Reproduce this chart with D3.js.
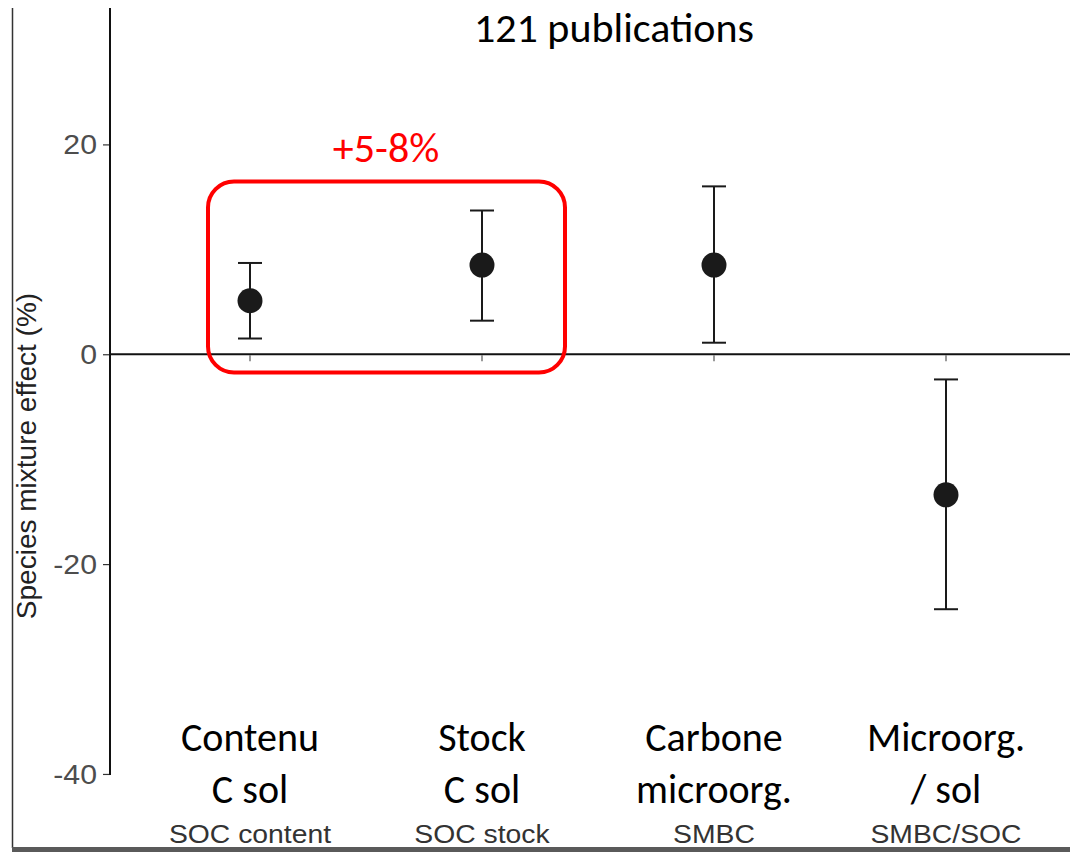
<!DOCTYPE html>
<html>
<head>
<meta charset="utf-8">
<script src="https://cdn.jsdelivr.net/npm/d3@7"></script>
<style>
  html, body { margin: 0; padding: 0; background: #fff; }
  svg { display: block; }
</style>
</head>
<body>
<svg id="chart" width="1070" height="852"></svg>
<script>
// Meta-analysis: effect of tree species mixture on soil carbon variables
const categories = ["SOC content", "SOC stock", "SMBC", "SMBC/SOC"];
const labelsFr = [["Contenu", "C sol"], ["Stock", "C sol"], ["Carbone", "microorg."], ["Microorg.", "/ sol"]];
const effect = [5.1, 8.5, 8.5, -13.4];
const ciLow = [1.5, 3.2, 1.1, -24.3];
const ciHigh = [8.7, 13.7, 16.0, -2.4];
const yTicks = [20, 0, -20, -40];
const highlighted = ["SOC content", "SOC stock"];

const svg = d3.select("#chart");
const W = 1070, H = 852;

const x = d3.scalePoint().domain(categories).range([250, 946]);
const y = d3.scaleLinear().domain([-40.1, 33]).range([775, 8]);

const ARIAL = "'Liberation Sans', Arial, sans-serif";
const CALIBRI = "Carlito, Calibri, Lato, sans-serif";

// text helper: anchored at (tx, ty), widened horizontally by sx
function label(parent, tx, ty, str, opts) {
  const g = parent.append("g")
    .attr("transform", `translate(${tx},${ty})${opts.rotate ? ` rotate(${opts.rotate})` : ""} scale(${opts.sx || 1},1)`);
  return g.append("text")
    .attr("text-anchor", opts.anchor || "middle")
    .style("font-family", opts.family)
    .style("font-size", opts.size + "px")
    .attr("fill", opts.fill || "#000")
    .text(str);
}

// frame: thin left edge and grey bottom band
svg.append("line").attr("x1", 12.5).attr("x2", 12.5).attr("y1", 8).attr("y2", 848)
  .attr("stroke", "#333").attr("stroke-width", 1.5);
svg.append("rect").attr("x", 12).attr("y", 847).attr("width", W - 12).attr("height", 5)
  .attr("fill", "#5a5a5a");

// y axis
const yAxis = d3.axisLeft(y).tickValues(yTicks).tickSize(7).tickFormat("");
const gy = svg.append("g").attr("transform", "translate(110,0)").call(yAxis);
gy.select(".domain").remove();
gy.selectAll(".tick line").attr("stroke", "#333").attr("stroke-width", 1.2);
yTicks.forEach(v => {
  label(svg, 97, y(v) + 10, v < 0 ? "-" + Math.abs(v) : String(v),
    { family: ARIAL, size: 28, sx: 1.08, anchor: "end", fill: "#4d4d4d" });
});
svg.append("line").attr("x1", 110).attr("x2", 110).attr("y1", y.range()[1]).attr("y2", y.range()[0])
  .attr("stroke", "#111").attr("stroke-width", 2);

// y axis title
label(svg, 36, 456, "Species mixture effect (%)",
  { family: ARIAL, size: 28, rotate: -90, fill: "#222" });

// zero reference line
svg.append("line").attr("x1", 110).attr("x2", W).attr("y1", y(0)).attr("y2", y(0))
  .attr("stroke", "#111").attr("stroke-width", 2);

// small category ticks below the zero line
svg.selectAll(".xtick").data(categories).join("line").attr("class", "xtick")
  .attr("x1", d => x(d)).attr("x2", d => x(d))
  .attr("y1", y(0) + 1).attr("y2", y(0) + 7)
  .attr("stroke", "#555").attr("stroke-width", 1.2);

// confidence intervals
const rows = categories.map((c, i) => ({ c, m: effect[i], lo: ciLow[i], hi: ciHigh[i] }));
const capW = 12;
const eb = svg.append("g").attr("stroke", "#1a1a1a").attr("stroke-width", 2);
eb.selectAll(".stem").data(rows).join("line")
  .attr("x1", d => x(d.c)).attr("x2", d => x(d.c))
  .attr("y1", d => y(d.lo)).attr("y2", d => y(d.hi));
eb.selectAll(".capLo").data(rows).join("line")
  .attr("x1", d => x(d.c) - capW).attr("x2", d => x(d.c) + capW)
  .attr("y1", d => y(d.lo)).attr("y2", d => y(d.lo));
eb.selectAll(".capHi").data(rows).join("line")
  .attr("x1", d => x(d.c) - capW).attr("x2", d => x(d.c) + capW)
  .attr("y1", d => y(d.hi)).attr("y2", d => y(d.hi));

// mean effects
svg.selectAll(".pt").data(rows).join("circle")
  .attr("cx", d => x(d.c)).attr("cy", d => y(d.m)).attr("r", 12.5)
  .attr("fill", "#1a1a1a");

// highlight box around soil carbon content and stock
const hx0 = x(highlighted[0]) - 42, hx1 = x(highlighted[1]) + 83;
svg.append("rect")
  .attr("x", hx0).attr("y", 181.5).attr("width", hx1 - hx0).attr("height", 191)
  .attr("rx", 26).attr("ry", 26)
  .attr("fill", "none").attr("stroke", "#ff0000").attr("stroke-width", 4);
label(svg, 386, 162, "+5-8%", { family: CALIBRI, size: 42, fill: "#ff0000" });

// title
label(svg, 614, 42, "121 publications", { family: CALIBRI, size: 42 });

// category labels (French) and original labels
categories.forEach((c, i) => {
  labelsFr[i].forEach((line, k) => {
    label(svg, x(c), 751 + k * 52, line, { family: CALIBRI, size: 40 });
  });
  label(svg, x(c), 843, c, { family: ARIAL, size: 26, sx: 1.09, fill: "#333" });
});
</script>
</body>
</html>
